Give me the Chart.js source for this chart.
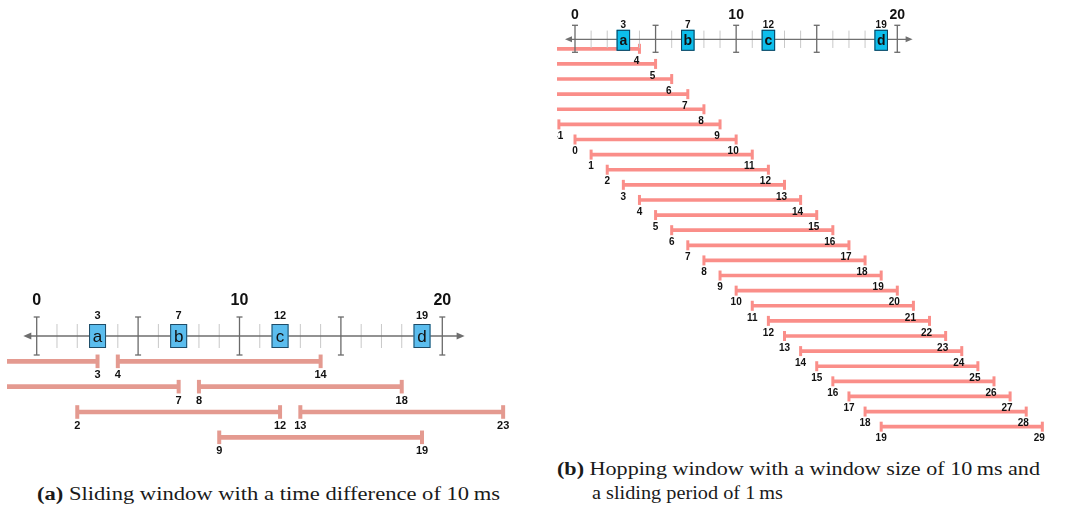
<!DOCTYPE html>
<html><head><meta charset="utf-8">
<script src="https://cdn.jsdelivr.net/npm/chart.js@4.4.1/dist/chart.umd.min.js"></script>
<style>
html,body{margin:0;padding:0;background:#fff;width:1070px;height:511px;overflow:hidden;position:relative}
.wrap{position:absolute}
canvas{display:block}
.cap{position:absolute;font-family:"Liberation Serif","DejaVu Serif",serif;font-size:18px;color:#1a1a1a;white-space:nowrap;transform-origin:0 50%;line-height:18px}
</style></head><body>
<div class="wrap" style="left:7px;top:280px;width:508px;height:180px"><canvas id="cl" width="508" height="180"></canvas></div>
<div class="wrap" style="left:557px;top:0;width:513px;height:455px"><canvas id="cr" width="513" height="455"></canvas></div>
<div class="cap" data-w="463" style="left:37px;top:485px"><b>(a)</b> Sliding window with a time difference of 10&#8201;ms</div>
<div class="cap" data-w="483" style="left:557px;top:460px"><b>(b)</b> Hopping window with a window size of 10&#8201;ms and</div>
<div class="cap" data-w="191" style="left:592px;top:484px">a sliding period of 1&#8201;ms</div>
<script>
// ---- shared number line data ----
const eventNames = ['a', 'b', 'c', 'd'];
const eventTimes = [3, 7, 12, 19];
const majorTicks = [0, 5, 10, 15, 20];
const minorTicks = [1, 2, 3, 4, 6, 7, 8, 9, 11, 12, 13, 14, 16, 17, 18, 19];
const axisLabelValues = [0, 10, 20];
const axisLabels = ['0', '10', '20'];

// ---- (a) sliding windows ----
const slidingRows   = [1, 1, 2, 2, 3, 3, 4];
const slidingStarts = [-7, 4, -3, 8, 2, 13, 9];
const slidingEnds   = [3, 14, 7, 18, 12, 23, 19];

// ---- (b) hopping windows ----
const hoppingRows   = [0, 1, 2, 3, 4, 5, 6, 7, 8, 9, 10, 11, 12, 13, 14, 15, 16, 17, 18, 19, 20, 21, 22, 23, 24, 25];
const hoppingStarts = [-6, -5, -4, -3, -2, -1, 0, 1, 2, 3, 4, 5, 6, 7, 8, 9, 10, 11, 12, 13, 14, 15, 16, 17, 18, 19];
const hoppingEnds   = [4, 5, 6, 7, 8, 9, 10, 11, 12, 13, 14, 15, 16, 17, 18, 19, 20, 21, 22, 23, 24, 25, 26, 27, 28, 29];

const numberLine = {
  id: 'numberLine',
  afterDatasetsDraw(chart, args, o) {
    const ctx = chart.ctx, xs = chart.scales.x, ys = chart.scales.y;
    const X = v => xs.getPixelForValue(v);
    const y0 = ys.getPixelForValue(o.axisRow);
    const line = (a, b, c, d) => { ctx.beginPath(); ctx.moveTo(a, b); ctx.lineTo(c, d); ctx.stroke(); };
    ctx.save();
    // minor ticks
    ctx.strokeStyle = o.minorColor; ctx.lineWidth = 1;
    minorTicks.forEach(v => { const x = X(v); line(x, y0 - o.minorH, x, y0 + o.minorH); });
    // axis line + arrows
    const xa = X(o.lineFrom), xb = X(o.lineTo);
    ctx.strokeStyle = o.axisColor; ctx.fillStyle = o.axisColor; ctx.lineWidth = 1.3;
    line(xa + 4, y0, xb - 4, y0);
    ctx.beginPath(); ctx.moveTo(xa, y0); ctx.lineTo(xa + o.arrowL, y0 - o.arrowW); ctx.lineTo(xa + o.arrowL, y0 + o.arrowW); ctx.closePath(); ctx.fill();
    ctx.beginPath(); ctx.moveTo(xb, y0); ctx.lineTo(xb - o.arrowL, y0 - o.arrowW); ctx.lineTo(xb - o.arrowL, y0 + o.arrowW); ctx.closePath(); ctx.fill();
    // major ticks with serifs
    ctx.strokeStyle = o.majorColor; ctx.lineWidth = 1.3;
    majorTicks.forEach(v => {
      const x = X(v);
      line(x, y0 - o.majorUp, x, y0 + o.majorDown);
      line(x - o.serif, y0 - o.majorUp, x + o.serif, y0 - o.majorUp);
      line(x - o.serif, y0 + o.majorDown, x + o.serif, y0 + o.majorDown);
    });
    // axis labels
    ctx.fillStyle = '#111'; ctx.textAlign = 'center'; ctx.textBaseline = 'middle';
    ctx.font = o.axisFont;
    axisLabelValues.forEach((v, i) => ctx.fillText(axisLabels[i], X(v), y0 + o.axisLabelDy));
    // event boxes
    eventTimes.forEach((t, i) => {
      const x = X(t);
      ctx.fillStyle = o.boxFill; ctx.strokeStyle = o.boxStroke; ctx.lineWidth = 1;
      ctx.fillRect(x - o.boxW / 2, y0 + o.boxDy - o.boxH / 2, o.boxW, o.boxH);
      ctx.strokeRect(x - o.boxW / 2 + 0.5, y0 + o.boxDy - o.boxH / 2 + 0.5, o.boxW - 1, o.boxH - 1);
      ctx.fillStyle = '#111';
      ctx.font = o.boxFont; ctx.fillText(eventNames[i], x, y0 + o.boxDy + 1);
      ctx.font = o.timeFont; ctx.fillText(String(t), x, y0 + o.timeDy);
    });
    // interval labels
    ctx.font = o.labelFont;
    o.rows.forEach((r, i) => {
      const y = ys.getPixelForValue(r) + o.labelDy;
      const s = o.starts[i], e = o.ends[i];
      if (s >= xs.min - 0.05) ctx.fillText(String(s), X(s) + o.startDx, y);
      ctx.fillText(String(e), X(e) + o.endDx, y);
    });
    ctx.restore();
  }
};

function build(id, rows, starts, ends, st) {
  const bars = rows.map((r, i) => ({ y: r, x: [starts[i], ends[i]] }));
  const caps = [];
  rows.forEach((r, i) => { caps.push({ x: starts[i], y: r }); caps.push({ x: ends[i], y: r }); });
  return new Chart(document.getElementById(id), {
    type: 'scatter',
    data: {
      datasets: [
        { type: 'bar', indexAxis: 'y', data: bars, backgroundColor: st.color, barThickness: st.barT, borderWidth: 0 },
        { type: 'scatter', data: caps, showLine: false, pointStyle: 'line', pointRotation: 90,
          pointRadius: st.capR, pointHoverRadius: st.capR, pointBorderWidth: st.capW, pointHoverBorderWidth: st.capW,
          pointBorderColor: st.color, pointBackgroundColor: st.color, borderColor: st.color }
      ]
    },
    options: {
      responsive: false, animation: false, events: [],
      layout: { padding: 0, autoPadding: false },
      scales: {
        x: { type: 'linear', min: st.xmin, max: st.xmax, offset: false, grace: 0, display: false },
        y: { type: 'linear', min: st.ymin, max: st.ymax, offset: false, grace: 0, reverse: true, display: false }
      },
      plugins: { legend: { display: false }, tooltip: { enabled: false },
        numberLine: Object.assign({ rows, starts, ends }, st.nl) }
    },
    plugins: [numberLine]
  });
}

build('cl', slidingRows, slidingStarts, slidingEnds, {
  color: '#E49A90', barT: 4, capR: 6.8, capW: 4,
  xmin: -1.4645, xmax: -1.4645 + 508 / 20.28, ymin: -2.211, ymax: -2.211 + 180 / 25.33,
  nl: { axisRow: 0, minorColor: '#c8c8c8', minorH: 12, axisColor: '#6e6e6e', lineFrom: -0.66, lineTo: 21.1,
        arrowL: 8, arrowW: 3.5, majorColor: '#6a6a6a', majorUp: 19, majorDown: 19, serif: 3,
        axisFont: 'bold 16px "Liberation Sans", Arial, sans-serif', axisLabelDy: -35,
        boxFill: '#5BBDEE', boxStroke: '#1F4B66', boxW: 17, boxH: 24, boxDy: 0,
        boxFont: '17px "Liberation Sans", Arial, sans-serif', timeFont: 'bold 11px "Liberation Sans", Arial, sans-serif', timeDy: -20.5,
        labelFont: 'bold 11px "Liberation Sans", Arial, sans-serif', labelDy: 14, startDx: 0, endDx: 0 }
});

build('cr', hoppingRows, hoppingStarts, hoppingEnds, {
  color: '#FA8E89', barT: 3, capR: 5, capW: 3,
  xmin: -1.117, xmax: -1.117 + 513 / 16.115, ymin: -3.229, ymax: -3.229 + 455 / 15.115,
  nl: { axisRow: -0.63, minorColor: '#c8c8c8', minorH: 8.7, axisColor: '#707070', lineFrom: -0.62, lineTo: 20.95,
        arrowL: 7, arrowW: 3, majorColor: '#6a6a6a', majorUp: 14, majorDown: 13, serif: 3,
        axisFont: 'bold 14px "Liberation Sans", Arial, sans-serif', axisLabelDy: -24.5,
        boxFill: '#0DBEEC', boxStroke: '#0F3A55', boxW: 13.5, boxH: 21, boxDy: 1,
        boxFont: 'bold 14px "Liberation Sans", Arial, sans-serif', timeFont: 'bold 10px "Liberation Sans", Arial, sans-serif', timeDy: -14.5,
        labelFont: 'bold 10px "Liberation Sans", Arial, sans-serif', labelDy: 12, startDx: 0, endDx: -3 }
});

document.querySelectorAll('.cap').forEach(el => {
  const w = el.getBoundingClientRect().width;
  el.style.transform = 'scaleX(' + (parseFloat(el.dataset.w) / w) + ')';
});
</script>
</body></html>
